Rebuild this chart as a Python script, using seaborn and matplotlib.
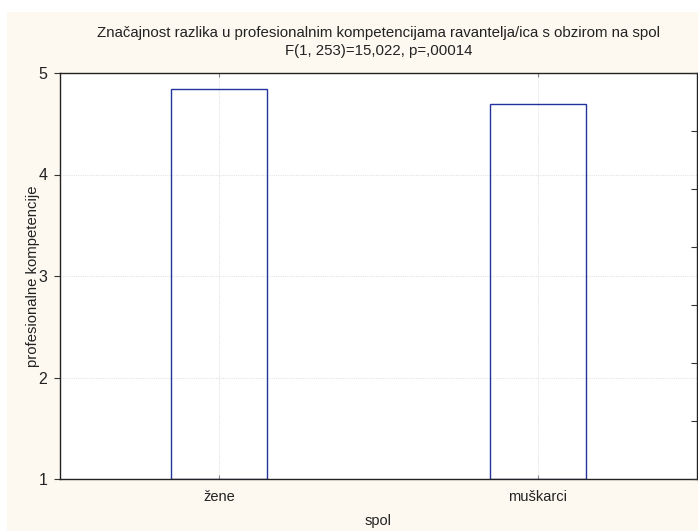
import matplotlib
matplotlib.use("Agg")
import matplotlib.pyplot as plt
import seaborn as sns
import pandas as pd
from matplotlib.patches import Rectangle

categories = ["žene", "muškarci"]
values = [4.84, 4.69]
yticks = [1, 2, 3, 4, 5]
title = "Značajnost razlika u profesionalnim kompetencijama ravantelja/ica s obzirom na spol\nF(1, 253)=15,022, p=,00014"

sns.set_theme(style="white")
plt.rcParams['font.family'] = ['Liberation Sans Narrow', 'Liberation Sans', 'DejaVu Sans']

W, H = 698, 531
fig = plt.figure(figsize=(W / 100, H / 100), dpi=100)
fig.patch.set_facecolor("white")
fig.patches.append(Rectangle((7 / W, 0), 1 - 7 / W, (H - 12) / H, transform=fig.transFigure,
                             facecolor="#FDF9F0", edgecolor="none", zorder=-10))

ax = fig.add_axes([60 / W, (H - 479) / H, (697 - 60) / W, (479 - 73) / H])
ax.set_facecolor("white")

df = pd.DataFrame({"spol": categories, "val": values})
df["base"] = [v - 1 for v in values]
sns.barplot(data=df, x="spol", y="base", bottom=1, width=0.3, fill=False,
            edgecolor="#2233A0", linewidth=1.0, ax=ax, errorbar=None)

ax.set_ylim(1, 5)
ax.set_xlim(-0.5, 1.5)
ax.set_yticks(yticks)
ax.set_yticklabels([str(t) for t in yticks])
ax.grid(True, color="#e4e4e4", linestyle=(0, (1, 1)), linewidth=0.8)
ax.set_axisbelow(True)
for s in ax.spines.values():
    s.set_visible(True)
    s.set_color("#222222")
    s.set_linewidth(1.0)

ax.tick_params(axis="y", direction="out", length=4, width=0.8, color="#333333",
               labelsize=11.5, labelcolor="#222222", pad=5)
ax.tick_params(axis="x", direction="in", length=3, width=0.8, color="#888888",
               top=True, bottom=True, labelsize=10.5, labelcolor="#222222", pad=8)

ax2 = ax.twinx()
ax2.set_ylim(0, 7)
ax2.set_yticks(range(8))
ax2.set_yticklabels([])
ax2.tick_params(axis="y", direction="in", length=4, width=0.8, color="#333333")
for s in ax2.spines.values():
    s.set_visible(False)

ax.set_xlabel("spol", fontsize=10.5, color="#222222", labelpad=7)
ax.set_ylabel("profesionalne kompetencije", fontsize=10.7, color="#222222")
ax.yaxis.set_label_coords(-0.032, 0.5)
ax.set_title(title, fontsize=10.8, color="#222222", pad=13, linespacing=1.35)

fig.savefig("out.png", dpi=100, facecolor=fig.get_facecolor())
